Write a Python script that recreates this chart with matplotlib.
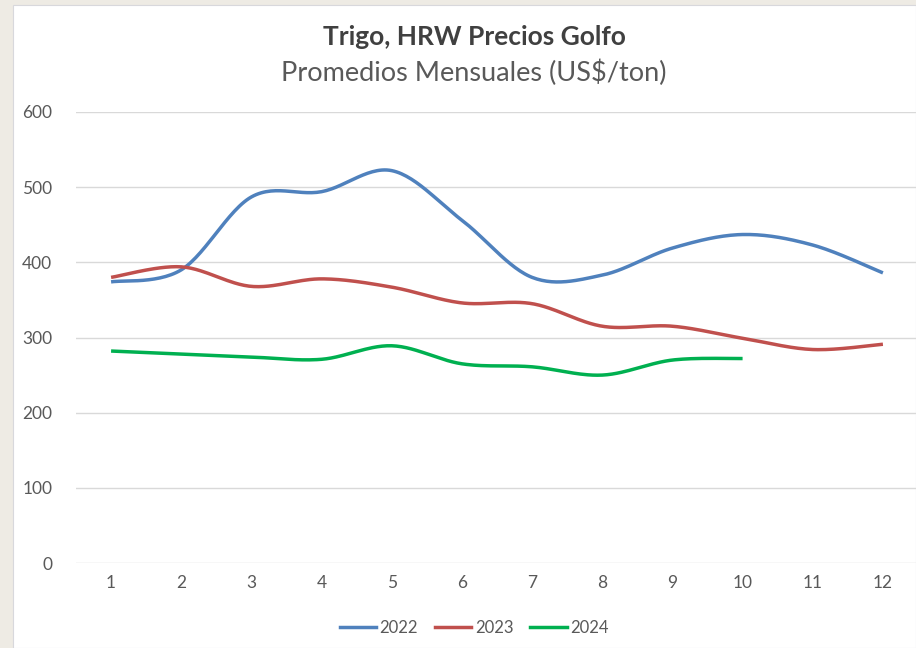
import matplotlib
matplotlib.use("Agg")
import matplotlib.pyplot as plt
import numpy as np
from matplotlib.patches import Rectangle
from matplotlib.lines import Line2D

months = list(range(1, 13))
series_names = ["2022", "2023", "2024"]
y2022 = [374, 390, 487, 494, 522, 456, 380, 383, 419, 437, 423, 386]
y2023 = [380, 394, 368, 378, 367, 346, 345, 315, 315, 299, 284, 291]
y2024 = [282, 278, 274, 271, 289, 265, 261, 250, 270, 272]
colors = ["#4F81BD", "#C0504D", "#00B050"]
yticks = [0, 100, 200, 300, 400, 500, 600]

def smooth(x, y, n=30):
    x = np.asarray(x, float); y = np.asarray(y, float)
    P = np.column_stack([x, y])
    m = len(P)
    out = []
    for i in range(m - 1):
        p0 = P[i - 1] if i > 0 else P[i]
        p1 = P[i]; p2 = P[i + 1]
        p3 = P[i + 2] if i + 2 < m else P[i + 1]
        c1 = p1 + (p2 - p0) / 6.0
        c2 = p2 - (p3 - p1) / 6.0
        t = np.linspace(0, 1, n)[:, None]
        b = (1 - t) ** 3 * p1 + 3 * (1 - t) ** 2 * t * c1 + 3 * (1 - t) * t ** 2 * c2 + t ** 3 * p2
        out.append(b if i == 0 else b[1:])
    B = np.vstack(out)
    return B[:, 0], B[:, 1]

plt.rcParams['font.family'] = ['Lato', 'DejaVu Sans']
W, H = 916, 648
fig = plt.figure(figsize=(W / 100, H / 100), dpi=100)
fig.patch.set_facecolor("#EEEBE4")
bg = Rectangle((13 / W, 0), 1 - 13 / W, 1 - 5 / H, transform=fig.transFigure,
               facecolor="white", edgecolor="#D8D8DC", linewidth=0.8, zorder=-10)
fig.add_artist(bg)

left = 76 / W
ax = fig.add_axes([left, 85 / H, (918 - 76) / W, 451 / H])
ax.set_zorder(5)
ax.set_facecolor("none")
for name, ys, c in zip(series_names, [y2022, y2023, y2024], colors):
    xs = months[:len(ys)]
    sx, sy = smooth(xs, ys)
    ax.plot(sx, sy, color=c, lw=2.5, solid_capstyle="butt", label=name)

ax.set_xlim(0.5, 12.5)
ax.set_ylim(0, 600)
ax.set_yticks(yticks)
ax.set_xticks(months)
ax.grid(axis="y", color="#D9D9D9", lw=1)
ax.set_axisbelow(True)
for s in ax.spines.values():
    s.set_visible(False)
ax.tick_params(axis="both", length=0, labelsize=12.5, colors="#595959")
ax.tick_params(axis="y", pad=17)
ax.tick_params(axis="x", pad=9)

fig.text(474 / W, 1 - 37 / H, "Trigo, HRW Precios Golfo", ha="center", va="center",
         fontsize=19, fontweight="bold", color="#404040")
fig.text(474 / W, 1 - 73 / H, "Promedios Mensuales (US$/ton)", ha="center", va="center",
         fontsize=19.5, color="#595959")

handles = [Line2D([0], [0], color=c, lw=2.5) for c in colors]
fig.legend(handles, series_names, loc="center", bbox_to_anchor=(474 / W, 1 - 628 / H),
           ncol=3, frameon=False, fontsize=12, handlelength=2.2, handletextpad=0.2,
           columnspacing=1.0, labelcolor="#595959")

fig.savefig("out.png", dpi=100)
